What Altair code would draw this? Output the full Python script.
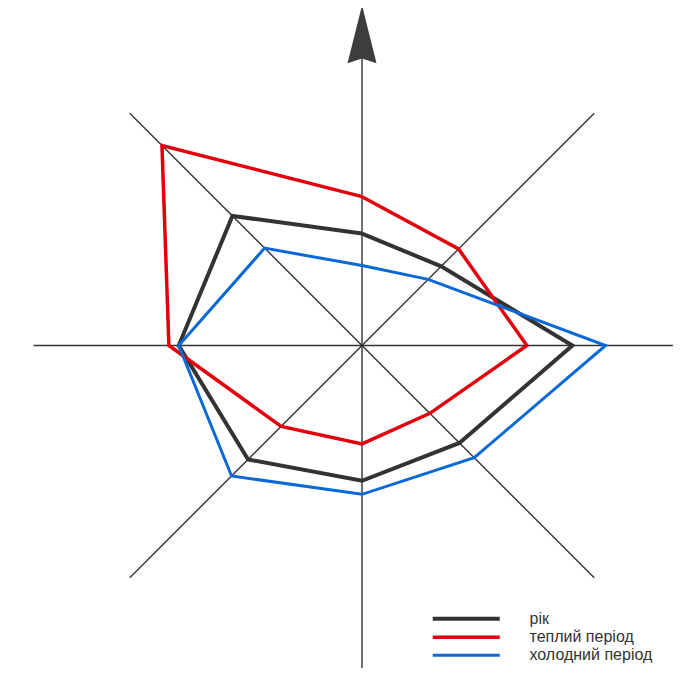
import altair as alt
import pandas as pd

# ---- data (wind-rose frequencies, %) ----
directions = ["Пн", "ПнСх", "Сх", "ПдСх", "Пд", "ПдЗх", "Зх", "ПнЗх"]
angles = [0, 45, 90, 135, 180, 225, 270, 315]
series = ["рік", "теплий період", "холодний період"]
year = [9.1, 9.1, 17.1, 11.2, 11.0, 13.1, 14.9, 14.9]
warm = [12.1, 11.1, 13.4, 7.8, 8.0, 9.3, 15.7, 23.0]
cold = [6.5, 7.6, 19.8, 12.9, 12.1, 15.0, 14.9, 11.2]

line_colors = ["#333333", "#e2000c", "#0b68d8"]
line_widths = [4, 3, 3]

# axis spokes (length in %, from the centre)
spoke_len = [23.6, 26.7, 28.0, 26.7, 28.0, 26.7, 26.7, 26.7]
arrow_r = 25.3

rows = []
for s, vals in zip(series, [year, warm, cold]):
    for i in range(len(directions) + 1):
        k = i % len(directions)
        rows.append({"series": s, "dir": directions[k], "angle": angles[k],
                     "r": vals[k], "order": i})
df = pd.DataFrame(rows)

spokes = pd.DataFrame({"angle": angles, "len": spoke_len, "c": [0] * 8})
arrow = pd.DataFrame({"angle": [0], "r": [arrow_r]})

xs = alt.Scale(domain=[-28.78, 25.28], nice=False, zero=False)
ys = alt.Scale(domain=[-26.22, 27.44], nice=False, zero=False)

spoke_layer = alt.Chart(spokes).transform_calculate(
    ex="datum.len * sin(datum.angle * PI / 180)",
    ey="datum.len * cos(datum.angle * PI / 180)",
).mark_rule(color="#333333", strokeWidth=1.4, clip=True).encode(
    x=alt.X("c:Q", scale=xs, axis=None),
    y=alt.Y("c:Q", scale=ys, axis=None),
    x2="ex:Q",
    y2="ey:Q",
)

arrow_layer = alt.Chart(arrow).transform_calculate(
    ax="datum.r * sin(datum.angle * PI / 180)",
    ay="datum.r * cos(datum.angle * PI / 180)",
).mark_point(
    shape="M0,-1 L0.5,1 L0,0.83 L-0.5,1 Z",
    filled=True, color="#3d3d3d", opacity=1, size=3364,
).encode(
    x=alt.X("ax:Q", scale=xs, axis=None),
    y=alt.Y("ay:Q", scale=ys, axis=None),
)

lines = alt.Chart(df).transform_calculate(
    x="datum.r * sin(datum.angle * PI / 180)",
    y="datum.r * cos(datum.angle * PI / 180)",
).mark_line(strokeJoin="miter").encode(
    x=alt.X("x:Q", scale=xs, axis=None),
    y=alt.Y("y:Q", scale=ys, axis=None),
    order="order:Q",
    color=alt.Color(
        "series:N",
        scale=alt.Scale(domain=series, range=line_colors),
        legend=alt.Legend(
            title=None, orient="none", legendX=449.25, legendY=601.75,
            symbolType="M-4.786,0L4.786,0", symbolSize=196,
            symbolStrokeWidth=4.5, labelOffset=54.25,
            labelFont="Liberation Sans", labelFontSize=16, labelColor="#333333",
            rowPadding=1.5, padding=0,
        ),
    ),
    strokeWidth=alt.StrokeWidth(
        "series:O", scale=alt.Scale(domain=series, range=line_widths), legend=None
    ),
)

chart = alt.layer(spoke_layer, arrow_layer, lines).properties(
    width=665, height=660, padding=0, autosize=alt.AutoSizeParams(type="none"),
    background="white",
).configure_view(stroke=None)

chart.save("out.html", embed_options={"renderer": "svg", "actions": False})
